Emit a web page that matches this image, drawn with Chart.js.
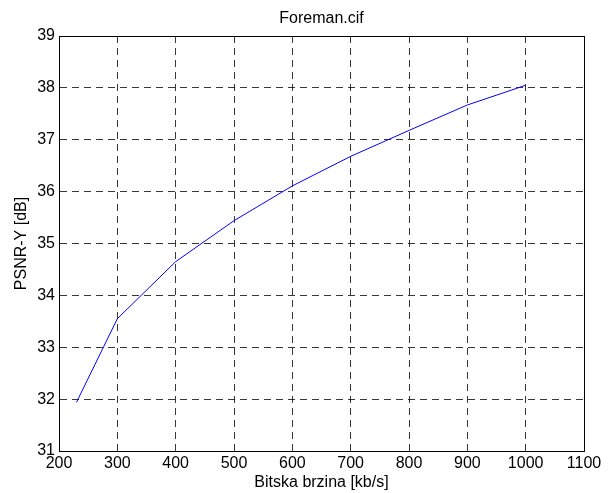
<!DOCTYPE html>
<html>
<head>
<meta charset="utf-8">
<script src="https://cdn.jsdelivr.net/npm/chart.js@4/dist/chart.umd.min.js"></script>
<style>
  body { margin: 0; background: #fff; }
  canvas { display: block; }
</style>
</head>
<body>
<canvas id="psnr" width="614" height="493"></canvas>
<script>
// bitrate [kb/s] vs PSNR-Y [dB]
let bitrates = [230, 300, 400, 500, 600, 700, 800, 900, 1000];
let psnrY = [31.94, 33.55, 34.65, 35.44, 36.11, 36.68, 37.18, 37.67, 38.05];

let xTicks = [200, 300, 400, 500, 600, 700, 800, 900, 1000, 1100];
let yTicks = [31, 32, 33, 34, 35, 36, 37, 38, 39];

const fontFamily = '"Liberation Sans", Arial, sans-serif';
const gridColor = 'rgba(0, 0, 0, 0.78)';

let ctx = document.getElementById('psnr').getContext('2d');

const points = bitrates.map((b, i) => ({ x: b, y: psnrY[i] }));

const config = {
  type: 'line',
  data: {
    datasets: [
      {
        label: 'Foreman.cif',
        data: points,
        borderColor: '#0000ff',
        borderWidth: 1,
        pointRadius: 0,
        tension: 0,
        fill: false,
      },
    ],
  },
  options: {
    responsive: false,
    animation: false,
    layout: { padding: 0 },
    plugins: {
      legend: { display: false },
      tooltip: { enabled: false },
    },
    scales: {
      x: {
        type: 'linear',
        position: 'bottom',
        min: xTicks[0],
        max: xTicks[xTicks.length - 1],
        afterBuildTicks: (axis) => {
          axis.ticks = xTicks.map((v) => ({ value: v }));
        },
        afterFit: (axis) => {
          axis.height = 42;
        },
        ticks: {
          color: '#000',
          padding: 3,
          font: { family: fontFamily, size: 16 },
          callback: (value) => String(value), // no thousands comma
        },
        grid: { color: gridColor, drawTicks: false },
        border: { color: '#000', width: 1, dash: [7, 5] },
        title: {
          display: true,
          text: 'Bitska brzina [kb/s]',
          color: '#000',
          font: { family: fontFamily, size: 16 },
          padding: { top: 0, bottom: 1 },
        },
      },
      y: {
        type: 'linear',
        position: 'left',
        min: yTicks[0],
        max: yTicks[yTicks.length - 1],
        afterBuildTicks: (axis) => {
          axis.ticks = yTicks.map((v) => ({ value: v }));
        },
        afterFit: (axis) => {
          axis.width = 59;
        },
        ticks: {
          color: '#000',
          padding: 4,
          font: { family: fontFamily, size: 16 },
          callback: (value) => String(value),
        },
        grid: { color: gridColor, drawTicks: false },
        border: { color: '#000', width: 1, dash: [7, 5] },
        title: {
          display: true,
          text: 'PSNR-Y [dB]',
          color: '#000',
          font: { family: fontFamily, size: 16 },
          padding: { top: 12, bottom: 0 },
        },
      },
      // top and right edges of the box, top one carries the plot title
      x2: {
        type: 'linear',
        position: 'top',
        min: xTicks[0],
        max: xTicks[xTicks.length - 1],
        afterFit: (axis) => {
          axis.height = 36;
        },
        ticks: { display: false },
        grid: { drawOnChartArea: false, drawTicks: false },
        border: { color: '#000', width: 1 },
        title: {
          display: true,
          text: 'Foreman.cif',
          color: '#000',
          font: { family: fontFamily, size: 16 },
          padding: { top: 9, bottom: 0 },
        },
      },
      y2: {
        type: 'linear',
        position: 'right',
        min: yTicks[0],
        max: yTicks[yTicks.length - 1],
        afterFit: (axis) => {
          axis.width = 30;
        },
        ticks: { display: false },
        grid: { drawOnChartArea: false, drawTicks: false },
        border: { color: '#000', width: 1 },
      },
    },
  },
};

new Chart(ctx, config);
</script>
</body>
</html>
